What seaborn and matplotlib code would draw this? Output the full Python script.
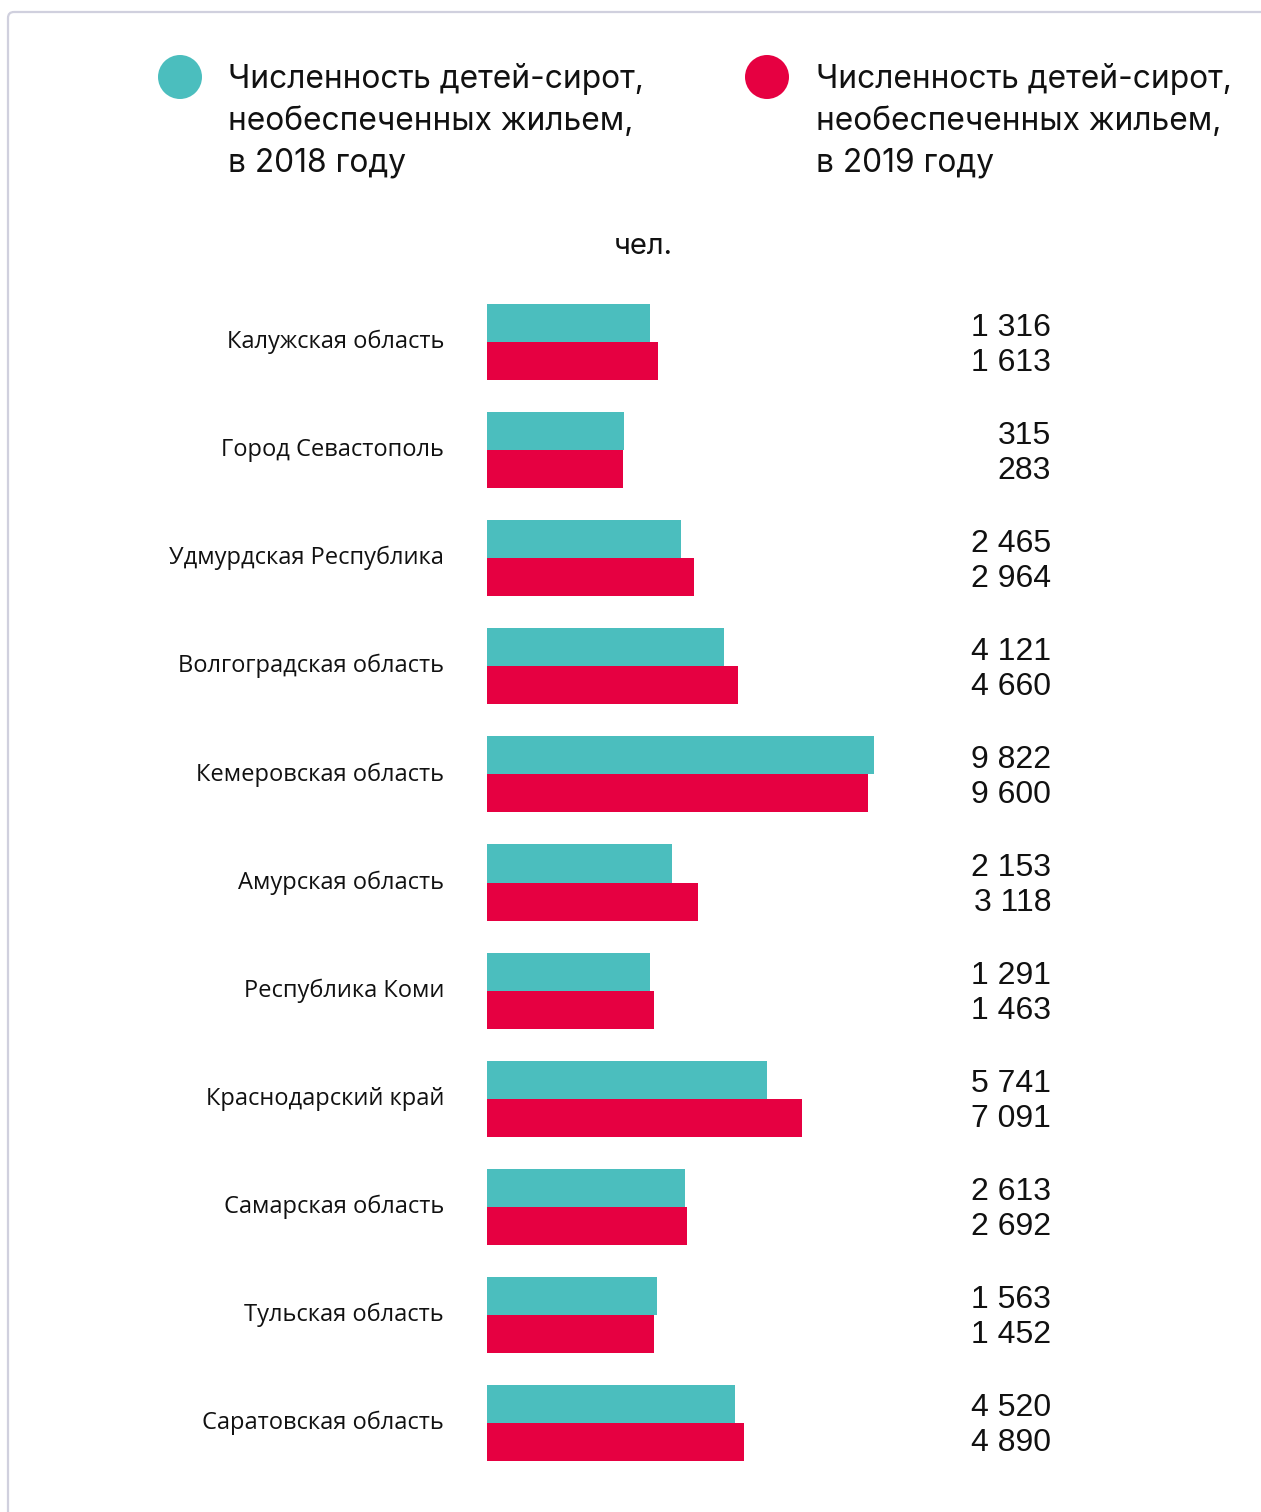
import matplotlib
matplotlib.use("Agg")
import matplotlib.pyplot as plt
from matplotlib.patches import Circle, FancyBboxPatch
import seaborn as sns
import pandas as pd

regions = ["Калужская область", "Город Севастополь", "Удмурдская Республика",
           "Волгоградская область", "Кемеровская область", "Амурская область",
           "Республика Коми", "Краснодарский край", "Самарская область",
           "Тульская область", "Саратовская область"]
values_2018 = [1316, 315, 2465, 4121, 9822, 2153, 1291, 5741, 2613, 1563, 4520]
values_2019 = [1613, 283, 2964, 4660, 9600, 3118, 1463, 7091, 2692, 1452, 4890]
labels_2018 = ["1 316", "315", "2 465", "4 121", "9 822", "2 153", "1 291", "5 741", "2 613", "1 563", "4 520"]
labels_2019 = ["1 613", "283", "2 964", "4 660", "9 600", "3 118", "1 463", "7 091", "2 692", "1 452", "4 890"]
series_names = ["Численность детей-сирот,\nнеобеспеченных жильем,\nв 2018 году",
                "Численность детей-сирот,\nнеобеспеченных жильем,\nв 2019 году"]
unit_label = "чел."

# bars in the original start from a non-zero baseline (offset scale)
BASE = 4900
TEAL = "#4BBEBE"
RED = "#E60041"

sns.set_theme(style="white")
plt.rcParams['font.family'] = ['DejaVu Sans']

W, H = 1261, 1512
fig = plt.figure(figsize=(W / 100, H / 100), dpi=100)

def fx(px):
    return px / W

def fy(py):
    return 1 - py / H

ax = fig.add_axes([fx(487), fy(1477), fx(1051) - fx(487), fy(288) - fy(1477)])

df = pd.DataFrame({
    "region": regions * 2,
    "value": values_2018 + values_2019,
    "year": ["2018"] * len(regions) + ["2019"] * len(regions),
})
df["shifted"] = df["value"] + BASE

sns.barplot(data=df, y="region", x="shifted", hue="year", orient="h",
            palette=[TEAL, RED], width=0.704, dodge=True, ax=ax,
            legend=False, saturation=1, linewidth=0, errorbar=None)

ax.set_xlim(0, 564 / 0.026297)
ax.set_ylim(len(regions) - 0.5, -0.5)
ax.set_xlabel("")
ax.set_ylabel("")
ax.set_xticks([])
for s in ax.spines.values():
    s.set_visible(False)
ax.tick_params(axis="y", length=0, pad=31)
for lab in ax.get_yticklabels():
    lab.set_fontfamily("Open Sans")
    lab.set_fontsize(17)
    lab.set_color("#111111")
    lab.set_verticalalignment("center")

for i in range(len(regions)):
    ax.text(1.0, i - 0.134, labels_2018[i], transform=ax.get_yaxis_transform(),
            ha="right", va="center", fontsize=23, family="Liberation Sans", color="#111111")
    ax.text(1.0, i + 0.19, labels_2019[i], transform=ax.get_yaxis_transform(),
            ha="right", va="center", fontsize=23, family="Liberation Sans", color="#111111")

# legend
for cx, col, tx, name in [(180, TEAL, 228, series_names[0]), (767, RED, 816, series_names[1])]:
    fig.add_artist(Circle((cx / 100, (H - 77) / 100), 0.22, transform=fig.dpi_scale_trans,
                          facecolor=col, edgecolor="none"))
    for k, line in enumerate(name.split("\n")):
        fig.text(fx(tx), fy(88 + 42 * k), line, ha="left", va="baseline",
                 fontsize=22.8, family="Inter", color="#111111")

fig.text(fx(643), fy(254), unit_label, ha="center", va="baseline",
         fontsize=21, family="Inter", color="#111111")

# card border
fig.add_artist(FancyBboxPatch((8 / 100, -0.5), (W + 100) / 100, (H - 12) / 100 + 0.5,
                              boxstyle="round,pad=0,rounding_size=0.06",
                              transform=fig.dpi_scale_trans, facecolor="none",
                              edgecolor="#D0D0DE", linewidth=1.6))

fig.savefig("out.png", dpi=100)
